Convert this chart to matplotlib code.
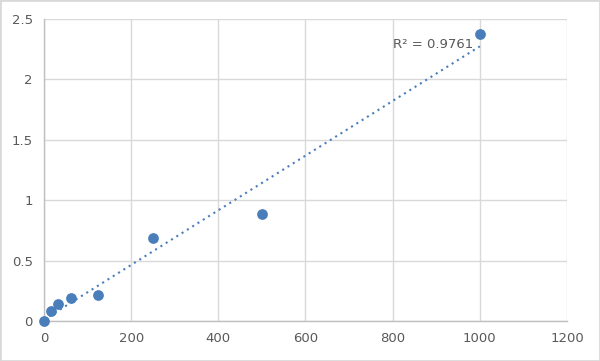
import matplotlib.pyplot as plt
from matplotlib.patches import Rectangle
import numpy as np

# standard curve data
conc = [0, 15.6, 31.25, 62.5, 125, 250, 500, 1000]
od = [0.0, 0.083, 0.14, 0.19, 0.215, 0.69, 0.885, 2.38]
x_ticks = [0, 200, 400, 600, 800, 1000, 1200]
y_ticks = [0, 0.5, 1, 1.5, 2, 2.5]
y_labels = ['0', '0.5', '1', '1.5', '2', '2.5']

fig = plt.figure(figsize=(6, 3.61), dpi=100)
ax = fig.add_axes([0.0733, 0.1108, 0.8717, 0.8365])

# linear trendline
k, b = np.polyfit(conc, od, 1)
xs = np.array([0, 1000])
ax.plot(xs, k * xs + b, color='#4a7ebb', linestyle=(0, (1, 2)), linewidth=1.5, zorder=2)
ax.scatter(conc, od, s=45, color='#4a7ebb', zorder=3, clip_on=False)

ax.text(0.667, 0.914, 'R² = 0.9761', transform=ax.transAxes, fontsize=9.5,
        color='#595959', va='center', ha='left')

ax.set_xlim(0, 1200)
ax.set_ylim(0, 2.5)
ax.set_xticks(x_ticks)
ax.set_yticks(y_ticks)
ax.set_yticklabels(y_labels)
ax.grid(True, color='#d9d9d9', linewidth=1)
ax.set_axisbelow(True)
for s in ['top', 'right']:
    ax.spines[s].set_visible(False)
for s in ['left', 'bottom']:
    ax.spines[s].set_color('#bfbfbf')
    ax.spines[s].set_linewidth(1)
ax.tick_params(length=0, labelsize=9.5, colors='#595959', pad=8)

fig.patches.append(Rectangle((0, 0), 1, 1, transform=fig.transFigure, fill=False,
                             edgecolor='#d9d9d9', linewidth=2))

fig.savefig('out.png', dpi=100)
